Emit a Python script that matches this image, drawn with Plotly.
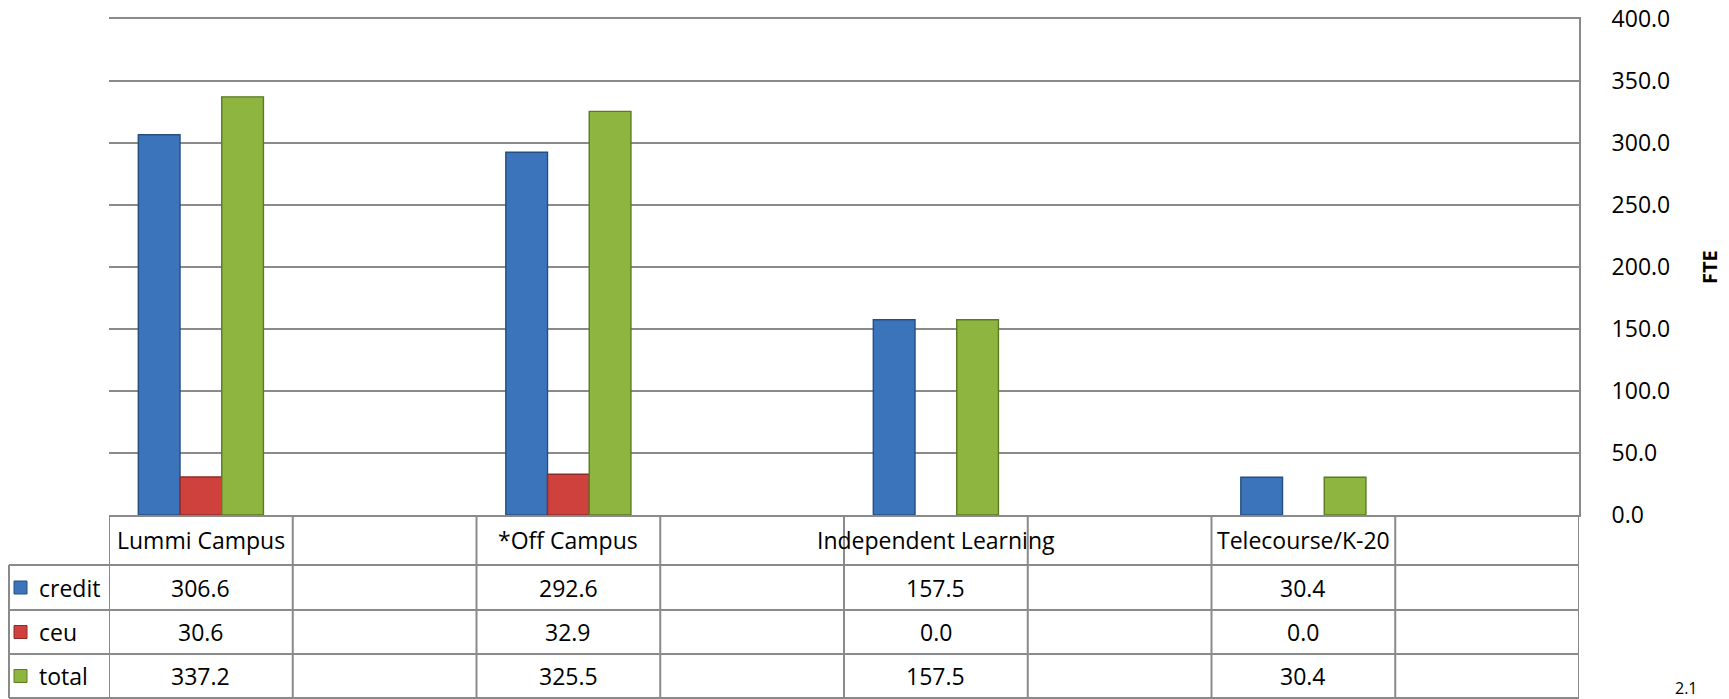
import plotly.graph_objects as go

# ---- data ----
categories = ["Lummi Campus", "*Off Campus", "Independent Learning", "Telecourse/K-20"]
credit = [306.6, 292.6, 157.5, 30.4]
ceu = [30.6, 32.9, 0.0, 0.0]
total = [337.2, 325.5, 157.5, 30.4]
series_names = ["credit", "ceu", "total"]
y_ticks = [0, 50, 100, 150, 200, 250, 300, 350, 400]

# ---- style ----
FONT = "Open Sans"
FILL = ["#3C74BC", "#CF413D", "#8DB540"]
EDGE = ["#24507F", "#8E2B28", "#5C7A24"]
GRID = "#8A8A8A"

W, H = 1729, 699
L, R, T, B = 109, 1579, 19, 515  # plot area in pixels
ROWS = [515, 565, 610, 654, 698]  # table row boundaries (pixels)
LEG_LEFT = 9


def pyp(p):
    return (B - p) / (B - T)


def pxp(p):
    return (p - L) / (R - L)


# categories sit in every other slot of 8 equal columns
ncol = 2 * len(categories)
xpos = [2 * i + 0.5 for i in range(len(categories))]

fig = go.Figure()
bw = 0.227
values = [credit, ceu, total]
for k, (name, vals) in enumerate(zip(series_names, values)):
    fig.add_trace(go.Bar(
        x=xpos, y=vals, name=name,
        width=bw, offset=-1.5 * bw + k * bw,
        marker=dict(color=FILL[k],
                    line=dict(color=EDGE[k], width=[1.4 if v > 0 else 0 for v in vals])),
        showlegend=False,
    ))

shapes = []
ann = []
line = dict(color=GRID, width=2)
# horizontal table lines
for r in ROWS[1:]:
    shapes.append(dict(type="line", xref="paper", yref="paper", x0=pxp(LEG_LEFT), x1=1,
                       y0=pyp(r), y1=pyp(r), line=line))
# vertical table lines
for c in range(ncol + 1):
    shapes.append(dict(type="line", xref="x", yref="paper", x0=c, x1=c,
                       y0=pyp(ROWS[0]), y1=pyp(ROWS[-1]), line=line))
shapes.append(dict(type="line", xref="paper", yref="paper", x0=pxp(LEG_LEFT), x1=pxp(LEG_LEFT),
                   y0=pyp(ROWS[1]), y1=pyp(ROWS[-1]), line=line))

txt = dict(family=FONT, size=23, color="#000")
# header labels
hy = pyp((ROWS[0] + ROWS[1]) / 2)
for xc, cat in zip(xpos, categories):
    ann.append(dict(x=xc, y=hy, xref="x", yref="paper", text=cat, showarrow=False,
                    xanchor="center", yanchor="middle", font=txt))
# value rows
for k, (name, vals) in enumerate(zip(series_names, values)):
    ry = pyp((ROWS[k + 1] + ROWS[k + 2]) / 2)
    for xc, v in zip(xpos, vals):
        ann.append(dict(x=xc, y=ry, xref="x", yref="paper", text=f"{v:.1f}", showarrow=False,
                        xanchor="center", yanchor="middle", font=txt))
    # legend key
    shapes.append(dict(type="rect", xref="paper", yref="paper",
                       x0=pxp(14), x1=pxp(27), y0=ry - 6.5 / (B - T), y1=ry + 6.5 / (B - T),
                       fillcolor=FILL[k], line=dict(color=EDGE[k], width=1)))
    ann.append(dict(x=pxp(37), y=ry, xref="paper", yref="paper", text=name, showarrow=False,
                    xanchor="left", yanchor="middle", font=txt))

# axis title and footer
ann.append(dict(x=pxp(1709), y=0.5, xref="paper", yref="paper", text="<b>FTE</b>",
                textangle=-90, showarrow=False, xanchor="center", yanchor="middle",
                font=dict(family=FONT, size=20, color="#000")))
ann.append(dict(x=pxp(1686), y=pyp(688), xref="paper", yref="paper", text="2.1",
                showarrow=False, xanchor="center", yanchor="middle",
                font=dict(family=FONT, size=16, color="#000")))

fig.update_layout(
    width=W, height=H, autosize=False,
    margin=dict(l=L, r=W - R, t=T, b=H - B, pad=0),
    paper_bgcolor="white", plot_bgcolor="white",
    barmode="overlay",
    shapes=shapes, annotations=ann,
    xaxis=dict(range=[0, ncol], showticklabels=False, showgrid=False, zeroline=False,
               showline=True, mirror=True, linecolor=GRID, linewidth=2, ticks="",
               automargin=False),
    yaxis=dict(side="right", range=[0, 400], tickvals=y_ticks, tickformat=".1f",
               showgrid=True, gridcolor=GRID, gridwidth=2, zeroline=False,
               showline=True, linecolor=GRID, linewidth=2, ticks="",
               ticklabelstandoff=26, automargin=False,
               tickfont=dict(family=FONT, size=23, color="#000")),
)

fig.write_html("out.html", config={"displayModeBar": False},
               post_script="document.body.style.margin='0';document.body.style.overflow='hidden';")
